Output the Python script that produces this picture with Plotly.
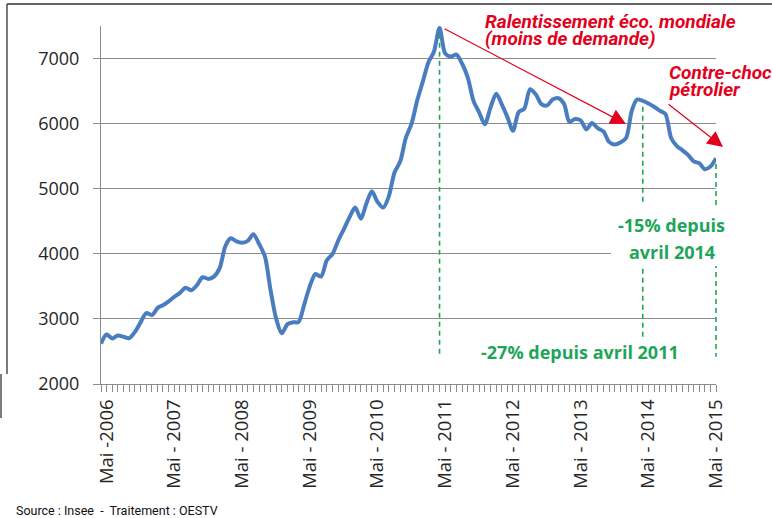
import pandas as pd
import plotly.graph_objects as go

# ---- data (monthly, April 2006 -> May 2015) ----
months = pd.date_range("2006-04-01", "2015-05-01", freq="MS")
values = [
    2620, 2760, 2700, 2745, 2725, 2705, 2800, 2950, 3090, 3060,   # 2006-04 .. 2007-01
    3170, 3210, 3270, 3340, 3400, 3480, 3440, 3520, 3640, 3615,   # 2007-02 .. 2007-11
    3650, 3780, 4120, 4240, 4190, 4170, 4200, 4300, 4150, 3960,   # 2007-12 .. 2008-09
    3450, 3000, 2780, 2920, 2950, 2950, 3220, 3500, 3690, 3650,   # 2008-10 .. 2009-07
    3900, 4000, 4200, 4380, 4560, 4710, 4540, 4760, 4960, 4800,   # 2009-08 .. 2010-05
    4710, 4880, 5250, 5420, 5780, 6000, 6350, 6650, 6950, 7100,   # 2010-06 .. 2011-03
    7470, 7080, 7030, 7060, 6920, 6700, 6350, 6170, 5990, 6250,   # 2011-04 .. 2012-01
    6460, 6300, 6100, 5890, 6180, 6230, 6530, 6450, 6300, 6280,   # 2012-02 .. 2012-11
    6370, 6390, 6300, 6030, 6070, 6050, 5910, 6010, 5930, 5880,   # 2012-12 .. 2013-09
    5720, 5680, 5710, 5780, 6200, 6370, 6350, 6310, 6260, 6200,   # 2013-10 .. 2014-07
    6150, 5780, 5660, 5590, 5520, 5420, 5390, 5300, 5340, 5470,   # 2014-08 .. 2015-05
]
tick_dates = ["2006-05-01", "2007-05-01", "2008-05-01", "2009-05-01", "2010-05-01",
              "2011-05-01", "2012-05-01", "2013-05-01", "2014-05-01", "2015-05-01"]
tick_labels = ["Mai -2006", "Mai - 2007", "Mai - 2008", "Mai - 2009", "Mai - 2010",
               "Mai - 2011", "Mai - 2012", "Mai - 2013", "Mai - 2014", "Mai - 2015"]
y_ticks = [2000, 3000, 4000, 5000, 6000, 7000]
y_range = [2000, 7500]

marker_dates = ["2011-04-01", "2014-04-01", "2015-05-01"]  # dashed reference lines

# ---- layout geometry ----
W, H = 772, 518
L, R, T, B = 101, 56, 26, 134
PW, PH = W - L - R, H - T - B


def px(x):
    return (x - L) / PW


def py(y):
    return (H - B - y) / PH


def date_frac(d):
    d = pd.Timestamp(d)
    return (d - months[0]) / (months[-1] - months[0])


def val_frac(v):
    return (v - y_range[0]) / (y_range[1] - y_range[0])


RED = "#E3001B"
GREEN = "#1FA55A"
GRID = "#8C8C8C"
TXT = "#262626"
BLUE = "#4A7DC0"

fig = go.Figure()
fig.add_trace(go.Scatter(
    x=months, y=values, mode="lines",
    line=dict(color=BLUE, width=4, shape="spline", smoothing=0.8),
    hoverinfo="skip", showlegend=False,
))

shapes = []
val_at = dict(zip([d.strftime("%Y-%m-%d") for d in months], values))
dash_bottom = 2420
for d in marker_dates:
    xf = date_frac(d)
    shapes.append(dict(type="line", xref="paper", yref="paper", x0=xf, x1=xf,
                       y0=val_frac(val_at[d] - 90), y1=val_frac(dash_bottom),
                       line=dict(color=GREEN, width=1.6, dash="5px,4px"), layer="above"))
# white mask behind "-15% depuis avril 2014"
shapes.append(dict(type="rect", xref="paper", yref="paper",
                   x0=px(611), x1=px(729), y0=py(266), y1=py(205),
                   fillcolor="white", line=dict(width=0), layer="above"))
# frame lines of the original picture
shapes.append(dict(type="line", xref="paper", yref="paper", x0=px(7), x1=px(772),
                   y0=py(4), y1=py(4), line=dict(color="#333", width=1.3)))
shapes.append(dict(type="line", xref="paper", yref="paper", x0=px(7), x1=px(7),
                   y0=py(4), y1=py(374), line=dict(color="#333", width=1.3)))
shapes.append(dict(type="line", xref="paper", yref="paper", x0=px(1), x1=px(1),
                   y0=py(374), y1=py(418), line=dict(color="#333", width=1.3)))

RFONT = dict(family="Roboto, sans-serif", size=19, color=RED, weight="bold", style="italic")
GFONT = dict(family="Open Sans, sans-serif", size=18, color=GREEN, weight="bold")

annotations = [
    dict(text="Ralentissement éco. mondiale", x=px(483), y=py(22), xanchor="left", yanchor="middle"),
    dict(text="(moins de demande)", x=px(483), y=py(38.5), xanchor="left", yanchor="middle"),
    dict(text="Contre-choc", x=px(667), y=py(72), xanchor="left", yanchor="middle"),
    dict(text="pétrolier", x=px(667), y=py(89), xanchor="left", yanchor="middle"),
]
for a in annotations:
    a.update(xref="paper", yref="paper", showarrow=False, font=RFONT)

green_ann = [
    dict(text="-15% depuis", x=px(671.5), y=py(225)),
    dict(text="avril 2014", x=px(672), y=py(251.5)),
    dict(text="-27% depuis avril 2011", x=px(580), y=py(352)),
]
for a in green_ann:
    a.update(xref="paper", yref="paper", showarrow=False, font=GFONT,
             xanchor="center", yanchor="middle", bgcolor="white")
annotations += green_ann

# red arrows (head position, tail offset in pixels)
for hx, hy, tx, ty in [(626, 124, 443, 28), (723, 147, 667, 103)]:
    annotations.append(dict(
        x=px(hx), y=py(hy), xref="paper", yref="paper", text="",
        showarrow=True, ax=tx - hx, ay=ty - hy,
        arrowcolor=RED, arrowwidth=1.2, arrowhead=2, arrowsize=2.6,
    ))

annotations.append(dict(
    text="Source : Insee  -  Traitement : OESTV", x=px(14), y=py(510),
    xref="paper", yref="paper", xanchor="left", yanchor="middle", showarrow=False,
    font=dict(family="Roboto, sans-serif", size=12.5, color="#111"),
))

fig.update_layout(
    width=W, height=H,
    margin=dict(l=L, r=R, t=T, b=B, autoexpand=False),
    paper_bgcolor="white", plot_bgcolor="white",
    shapes=shapes, annotations=annotations,
    xaxis=dict(
        range=[months[0], months[-1]],
        tickmode="array", tickvals=tick_dates, ticktext=tick_labels,
        tickangle=-90, ticks="outside", ticklen=7, tickcolor=GRID, tickwidth=1,
        showline=True, linecolor=GRID, linewidth=1, showgrid=False, zeroline=False,
        tickfont=dict(family="Open Sans, sans-serif", size=18.5, color=TXT),
        minor=dict(ticks="outside", ticklen=7, tickcolor=GRID, dtick="M1",
                   tick0="2006-04-01", showgrid=False),
    ),
    yaxis=dict(
        range=y_range, tickmode="array", tickvals=y_ticks,
        ticktext=[str(v) for v in y_ticks],
        ticks="outside", ticklen=7, tickcolor=GRID, ticklabelstandoff=10,
        showline=True, linecolor=GRID, linewidth=1,
        showgrid=True, gridcolor=GRID, gridwidth=1, zeroline=False,
        tickfont=dict(family="Open Sans, sans-serif", size=18, color=TXT),
    ),
)

fig.write_html("out.html", config={"displayModeBar": False},
               post_script="document.body.style.margin='0';document.body.style.overflow='hidden';")
